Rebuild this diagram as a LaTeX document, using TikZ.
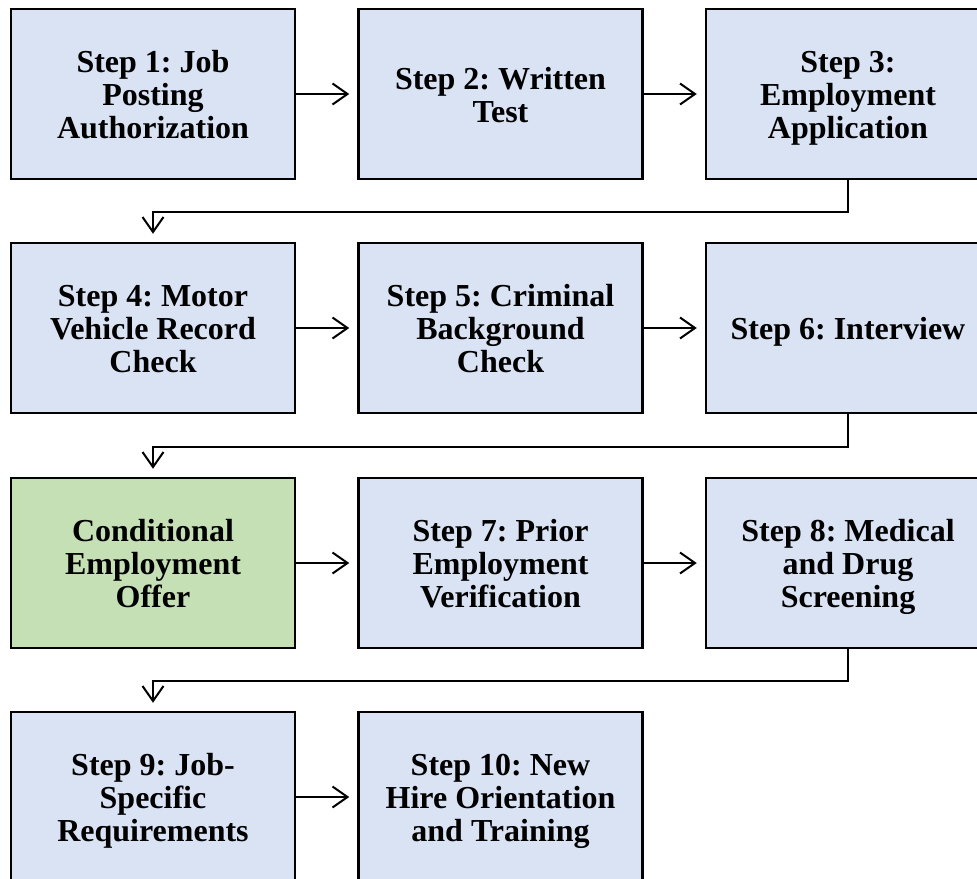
\documentclass[tikz,border=0pt]{standalone}
\usepackage{fontspec}
\setmainfont{Liberation Serif}
\frenchspacing
\usetikzlibrary{arrows.meta}
\definecolor{boxblue}{HTML}{DAE3F3}
\definecolor{boxgreen}{HTML}{C5E0B4}
\newcommand\tstrut{\rule{0pt}{33pt}}
\begin{document}
\begin{tikzpicture}[x=1pt,y=1pt,
  stepbox/.style={draw=black, line width=2.5pt, fill=boxblue, minimum width=284pt, minimum height=170pt, inner sep=0pt, align=center, font=\fontsize{32}{33}\selectfont\bfseries, execute at end node={\rule[-10pt]{0pt}{1pt}}},
  offerbox/.style={stepbox, fill=boxgreen},
  conn/.style={line width=2pt, -{Straight Barb[length=15pt,width=21pt,line width=2pt]}, shorten >=8pt}
]
\useasboundingbox (0,0) rectangle (977,-878);
\node[stepbox] (s1) at (153,-94) {\tstrut Step 1: Job\\Posting\\Authorization};
\node[stepbox] (s2) at (500.5,-94) {\tstrut Step 2: Written\\Test};
\node[stepbox] (s3) at (848,-94) {\tstrut Step 3:\\Employment\\Application};
\node[stepbox] (s4) at (153,-328) {\tstrut Step 4: Motor\\Vehicle Record\\Check};
\node[stepbox] (s5) at (500.5,-328) {\tstrut Step 5: Criminal\\Background\\Check};
\node[stepbox] (s6) at (848,-328) {\tstrut Step 6: Interview};
\node[offerbox] (co) at (153,-563) {\tstrut Conditional\\Employment\\Offer};
\node[stepbox] (s7) at (500.5,-563) {\tstrut Step 7: Prior\\Employment\\Verification};
\node[stepbox] (s8) at (848,-563) {\tstrut Step 8: Medical\\and Drug\\Screening};
\node[stepbox] (s9) at (153,-797) {\tstrut Step 9: Job-\\Specific\\Requirements};
\node[stepbox] (s10) at (500.5,-797) {\tstrut Step 10: New\\Hire Orientation\\and Training};
\draw[conn] (s1) -- (s2);
\draw[conn] (s2) -- (s3);
\draw[conn] (s4) -- (s5);
\draw[conn] (s5) -- (s6);
\draw[conn] (co) -- (s7);
\draw[conn] (s7) -- (s8);
\draw[conn] (s9) -- (s10);
\draw[conn] (s3.south) -- ++(0,-32) -| (s4.north);
\draw[conn] (s6.south) -- ++(0,-32.5) -| (co.north);
\draw[conn] (s8.south) -- ++(0,-32) -| (s9.north);
\end{tikzpicture}
\end{document}
